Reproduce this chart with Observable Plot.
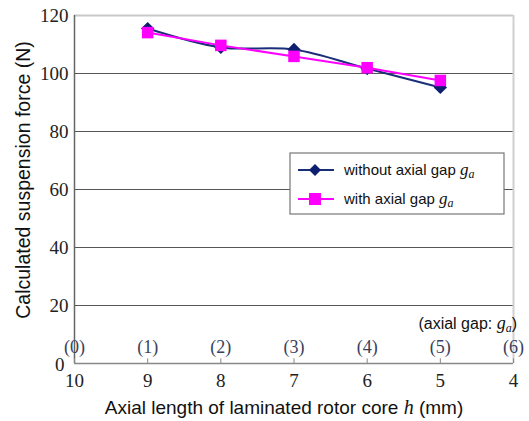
<!DOCTYPE html>
<html><head><meta charset="utf-8">
<script src="https://cdn.jsdelivr.net/npm/d3@7"></script>
<script src="https://cdn.jsdelivr.net/npm/@observablehq/plot@0.6"></script>
<style>body{margin:0;background:#fff} .serif text{font-family:"Liberation Serif", serif !important;}</style>
</head><body><div id="chart"></div>
<script>
const lengths = [9, 8, 7, 6, 5];
const withoutGap = [115.5, 109, 108.3, 101.7, 95.2];
const withGap = [114.1, 109.7, 105.9, 102, 97.6];
const xTicks = [10, 9, 8, 7, 6, 5, 4];
const gapLabels = ["(0)", "(1)", "(2)", "(3)", "(4)", "(5)", "(6)"];
const yTicks = [20, 40, 60, 80, 100, 120];
const gridY = [20, 40, 60, 80, 100];

const s1 = lengths.map((h, i) => ({h, v: withoutGap[i]}));
const s2 = lengths.map((h, i) => ({h, v: withGap[i]}));
const gaps = xTicks.map((h, i) => ({h, label: gapLabels[i]}));

const serif = "Liberation Serif";
const sans = "Liberation Sans";

const chart = Plot.plot({
  width: 529, height: 421,
  marginLeft: 74, marginRight: 16, marginTop: 15, marginBottom: 58,
  x: {domain: [10, 4], axis: null},
  y: {domain: [0, 120], axis: null},
  style: {background: "#fff"},
  marks: [
    Plot.ruleY(gridY, {stroke: "#555", strokeWidth: 1.2}),
    Plot.ruleY([120], {stroke: "#c8c8c8", strokeWidth: 2}),
    Plot.ruleX([4], {stroke: "#d0d0d0", strokeWidth: 2}),
    Plot.ruleY([0], {stroke: "#888", strokeWidth: 1.5}),
    Plot.ruleX([10], {stroke: "#666", strokeWidth: 1.5}),
    Plot.ruleX(xTicks, {x: d => d, y1: 0, y2: 1.6, stroke: "#888"}),
    Plot.axisY({ticks: yTicks, label: null, tickSize: 0, tickPadding: 6, fontSize: 19, className: "serif", fill: "#222"}),
    Plot.text([0], {x: 10, y: d => d, dx: -10, dy: 1, textAnchor: "end", text: d => String(d), fontSize: 19, className: "serif", fill: "#222"}),
    Plot.text(xTicks, {x: d => d, y: 0, dy: 17, text: d => String(d), fontSize: 19, className: "serif", fill: "#222"}),
    Plot.text(gaps, {x: "h", y: 0, dy: -16, text: "label", fontSize: 18, className: "serif", fill: "#3a3f5c"}),
    Plot.line(s1, {x: "h", y: "v", stroke: "#1a2f78", strokeWidth: 2, curve: "catmull-rom"}),
    Plot.dot(s1, {x: "h", y: "v", symbol: "diamond2", r: 6, fill: "#0d1f6e", stroke: "none"}),
    Plot.line(s2, {x: "h", y: "v", stroke: "#ff00ff", strokeWidth: 2}),
    Plot.dot(s2, {x: "h", y: "v", symbol: "square", r: 6.5, fill: "#ff00ff", stroke: "none"})
  ]
});

const svg = d3.select(chart);
svg.selectAll(".serif text, text.serif, g.serif text").style("font-family", serif);
// y title
svg.append("text")
  .attr("transform", "translate(30,180) rotate(-90)")
  .attr("text-anchor", "middle")
  .style("font-family", sans).attr("font-size", 19.5).attr("fill", "#111")
  .text("Calculated suspension force (N)");
// x title
const xt = svg.append("text")
  .attr("x", 284).attr("y", 414).attr("text-anchor", "middle")
  .style("font-family", sans).attr("font-size", 19).attr("fill", "#111");
xt.append("tspan").text("Axial length of laminated rotor core ");
xt.append("tspan").style("font-family", serif).attr("font-style", "italic").attr("font-size", 20).text("h");
xt.append("tspan").text(" (mm)");
// axial gap note
const ag = svg.append("text")
  .attr("x", 517).attr("y", 329).attr("text-anchor", "end")
  .style("font-family", sans).attr("font-size", 16).attr("fill", "#111");
ag.append("tspan").text("(axial gap: ");
ag.append("tspan").style("font-family", serif).attr("font-style", "italic").attr("font-size", 18).text("g");
ag.append("tspan").style("font-family", serif).attr("font-style", "italic").attr("font-size", 12).attr("dy", 3).text("a");
ag.append("tspan").attr("dy", -3).text(")");
// legend
const lg = svg.append("g");
lg.append("rect").attr("x", 290).attr("y", 153).attr("width", 214).attr("height", 61)
  .attr("fill", "#fff").attr("stroke", "#777").attr("stroke-width", 1.2);
const entries = [
  {label: "without axial gap ", color: "#1a2f78", mark: "#0d1f6e", sym: "diamond", y: 170},
  {label: "with axial gap ", color: "#ff00ff", mark: "#ff00ff", sym: "square", y: 199}
];
entries.forEach(e => {
  lg.append("line").attr("x1", 298).attr("x2", 334).attr("y1", e.y).attr("y2", e.y)
    .attr("stroke", e.color).attr("stroke-width", 2);
  if (e.sym === "diamond") {
    lg.append("path").attr("d", `M315,${e.y-6}L321,${e.y}L315,${e.y+6}L309,${e.y}Z`).attr("fill", e.mark);
  } else {
    lg.append("rect").attr("x", 309).attr("y", e.y - 6).attr("width", 12).attr("height", 12).attr("fill", e.mark);
  }
  const t = lg.append("text").attr("x", 344).attr("y", e.y + 5).attr("text-anchor", "start")
    .style("font-family", sans).attr("font-size", 15).attr("fill", "#111");
  t.append("tspan").text(e.label);
  t.append("tspan").style("font-family", serif).attr("font-style", "italic").attr("font-size", 17).text("g");
  t.append("tspan").style("font-family", serif).attr("font-style", "italic").attr("font-size", 12).attr("dy", 3).text("a");
});

document.getElementById("chart").appendChild(chart);
</script>
</body></html>
